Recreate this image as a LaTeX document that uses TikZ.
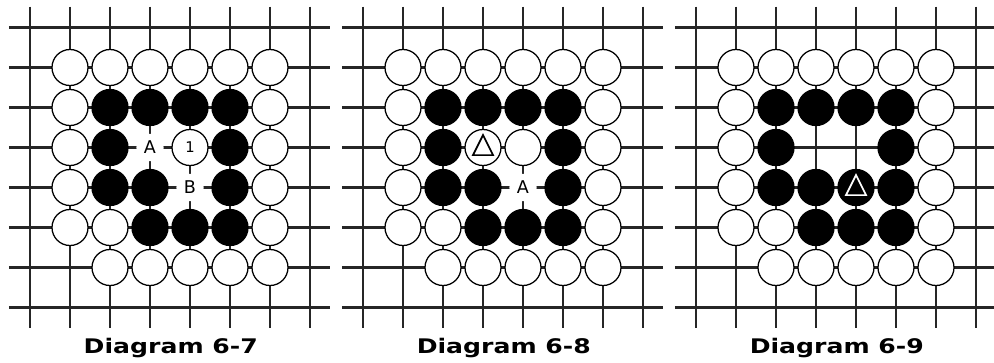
\documentclass[tikz,border=0pt]{standalone}
\usepackage{fontspec}
\setmainfont{DejaVu Sans}
\newfontfamily\capfont[FakeStretch=1.25]{DejaVu Sans}

\tikzset{
  gridline/.style={line width=1.5pt, black!85},
  whitestone/.style={circle, draw, line width=0.9pt, fill=white, minimum size=0.9cm, inner sep=0pt, font=\fontsize{10.5}{11}\selectfont},
  blackstone/.style={circle, draw, line width=0.9pt, fill=black, minimum size=0.9cm, inner sep=0pt},
  pointlabel/.style={circle, fill=white, minimum size=0.68cm, inner sep=0pt, font=\fontsize{12.5}{13}\selectfont},
  marker/.style={line width=1.2pt, line join=miter},
  caption/.style={anchor=base, font=\capfont\bfseries\fontsize{14.3}{16}\selectfont}
}

\begin{document}
\begin{tikzpicture}
  \useasboundingbox (-0.75,-8.3625) rectangle (24.1,0.6875);

  \foreach \d/\dx/\n in {1/0/7, 2/8.325/8, 3/16.65/9} {
    \begin{scope}[xshift=\dx cm]
      % Grid
      \foreach \i in {0,...,7} {
        \draw[gridline] (-0.53,-\i) -- (7.5,-\i);
        \draw[gridline] (\i,0.52) -- (\i,-7.52);
      }

      % White stones
      \foreach \c in {1,...,6} \node[whitestone] (w\d-\c-1) at (\c,-1) {};
      \foreach \c/\r in {1/2,6/2,1/3,6/3,1/4,6/4,1/5,2/5,6/5}
        \node[whitestone] (w\d-\c-\r) at (\c,-\r) {};
      \foreach \c in {2,...,6} \node[whitestone] (w\d-\c-6) at (\c,-6) {};

      % Black stones
      \foreach \c/\r in {2/2,3/2,4/2,5/2,2/3,5/3,2/4,3/4,5/4,3/5,4/5,5/5}
        \node[blackstone] (b\d-\c-\r) at (\c,-\r) {};

      % Caption
      \node[caption] (cap\d) at (3.52,-8.15) {Diagram 6-\n};
    \end{scope}
  }

  % Diagram 6-7
  \node[whitestone] (one) at (4,-3) {1};
  \node[pointlabel] (A1) at (3,-3) {A};
  \node[pointlabel] (B1) at (4,-4) {B};

  % Diagram 6-8
  \begin{scope}[xshift=8.325cm]
    \node[whitestone] (tw) at (3,-3) {};
    \node[whitestone] (w2-4-3) at (4,-3) {};
    \node[pointlabel] (A2) at (4,-4) {A};
    \draw[marker] ([yshift=0.31cm]tw.center) -- ([shift={(0.25,-0.19)}]tw.center)
      -- ([shift={(-0.25,-0.19)}]tw.center) -- cycle;
  \end{scope}

  % Diagram 6-9
  \begin{scope}[xshift=16.65cm]
    \node[blackstone] (tb) at (4,-4) {};
    \draw[marker, white] ([yshift=0.31cm]tb.center) -- ([shift={(0.25,-0.19)}]tb.center)
      -- ([shift={(-0.25,-0.19)}]tb.center) -- cycle;
  \end{scope}
\end{tikzpicture}
\end{document}
